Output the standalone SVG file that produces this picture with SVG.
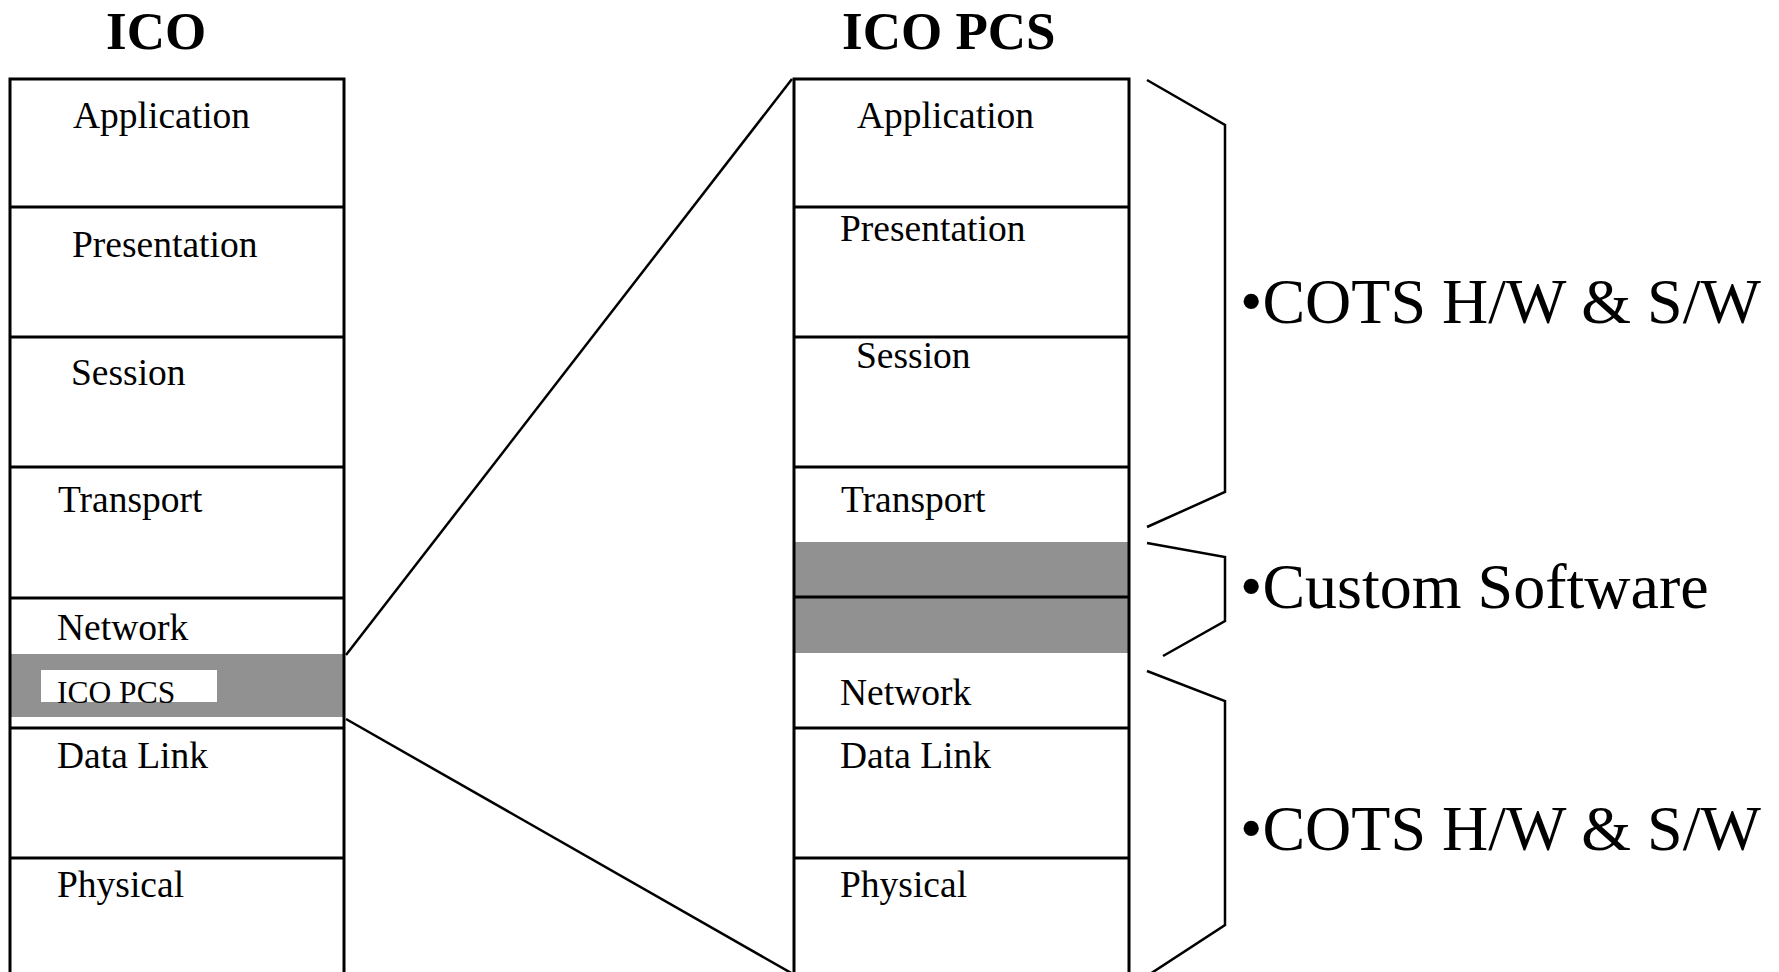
<svg xmlns="http://www.w3.org/2000/svg" width="1779" height="972" viewBox="0 0 1779 972">
<style>
.t{font-family:"Liberation Serif","Times New Roman",serif;fill:#000}
.lbl{font-size:37.5px}
.ttl{font-size:53px;font-weight:bold}
.big{font-size:64px}
.box{fill:none;stroke:#000;stroke-width:3}
.sep{stroke:#000;stroke-width:3}
.gray{fill:#919191}
.con{fill:none;stroke:#000;stroke-width:2.5}
</style>
<rect x="0" y="0" width="1779" height="972" fill="#fff"/>
<text class="t ttl" x="106" y="49">ICO</text>
<text class="t ttl" x="842" y="49">ICO PCS</text>
<g id="ico-stack">
<rect class="gray" x="10" y="654" width="334" height="63"/>
<rect class="box" x="10" y="79" width="334" height="900"/>
<line class="sep" x1="10" y1="207" x2="344" y2="207"/>
<line class="sep" x1="10" y1="337" x2="344" y2="337"/>
<line class="sep" x1="10" y1="467" x2="344" y2="467"/>
<line class="sep" x1="10" y1="598" x2="344" y2="598"/>
<line class="sep" x1="10" y1="728" x2="344" y2="728"/>
<line class="sep" x1="10" y1="858" x2="344" y2="858"/>
<rect x="41" y="670" width="176" height="32" fill="#fff"/>
<text class="t lbl" x="73" y="128">Application</text>
<text class="t lbl" x="72" y="257">Presentation</text>
<text class="t lbl" x="71" y="385">Session</text>
<text class="t lbl" x="58" y="512">Transport</text>
<text class="t lbl" x="57" y="640">Network</text>
<text class="t" x="57" y="703" font-size="31.5">ICO PCS</text>
<text class="t lbl" x="57" y="768">Data Link</text>
<text class="t lbl" x="57" y="897">Physical</text>
</g>
<g id="icopcs-stack">
<rect class="gray" x="794" y="542" width="335" height="111"/>
<rect class="box" x="794" y="79" width="335" height="900"/>
<line class="sep" x1="794" y1="207" x2="1129" y2="207"/>
<line class="sep" x1="794" y1="337" x2="1129" y2="337"/>
<line class="sep" x1="794" y1="467" x2="1129" y2="467"/>
<line class="sep" x1="794" y1="597" x2="1129" y2="597"/>
<line class="sep" x1="794" y1="728" x2="1129" y2="728"/>
<line class="sep" x1="794" y1="858" x2="1129" y2="858"/>
<text class="t lbl" x="857" y="128">Application</text>
<text class="t lbl" x="840" y="241">Presentation</text>
<text class="t lbl" x="856" y="368">Session</text>
<text class="t lbl" x="841" y="512">Transport</text>
<text class="t lbl" x="840" y="705">Network</text>
<text class="t lbl" x="840" y="768">Data Link</text>
<text class="t lbl" x="840" y="897">Physical</text>
</g>
<g id="connectors">
<line class="con" x1="346" y1="655" x2="792" y2="79"/>
<line class="con" x1="346" y1="719" x2="793" y2="974"/>
<polyline class="con" points="1147,80 1225,125 1225,492 1147,527"/>
<polyline class="con" points="1147,543 1225,557 1225,621 1163,656"/>
<polyline class="con" points="1147,671 1225,701 1225,925 1150,974"/>
</g>
<g id="notes">
<text class="t big" x="1240" y="323">•COTS H/W &amp; S/W</text>
<text class="t big" x="1240" y="608">•Custom Software</text>
<text class="t big" x="1240" y="850">•COTS H/W &amp; S/W</text>
</g>
</svg>
